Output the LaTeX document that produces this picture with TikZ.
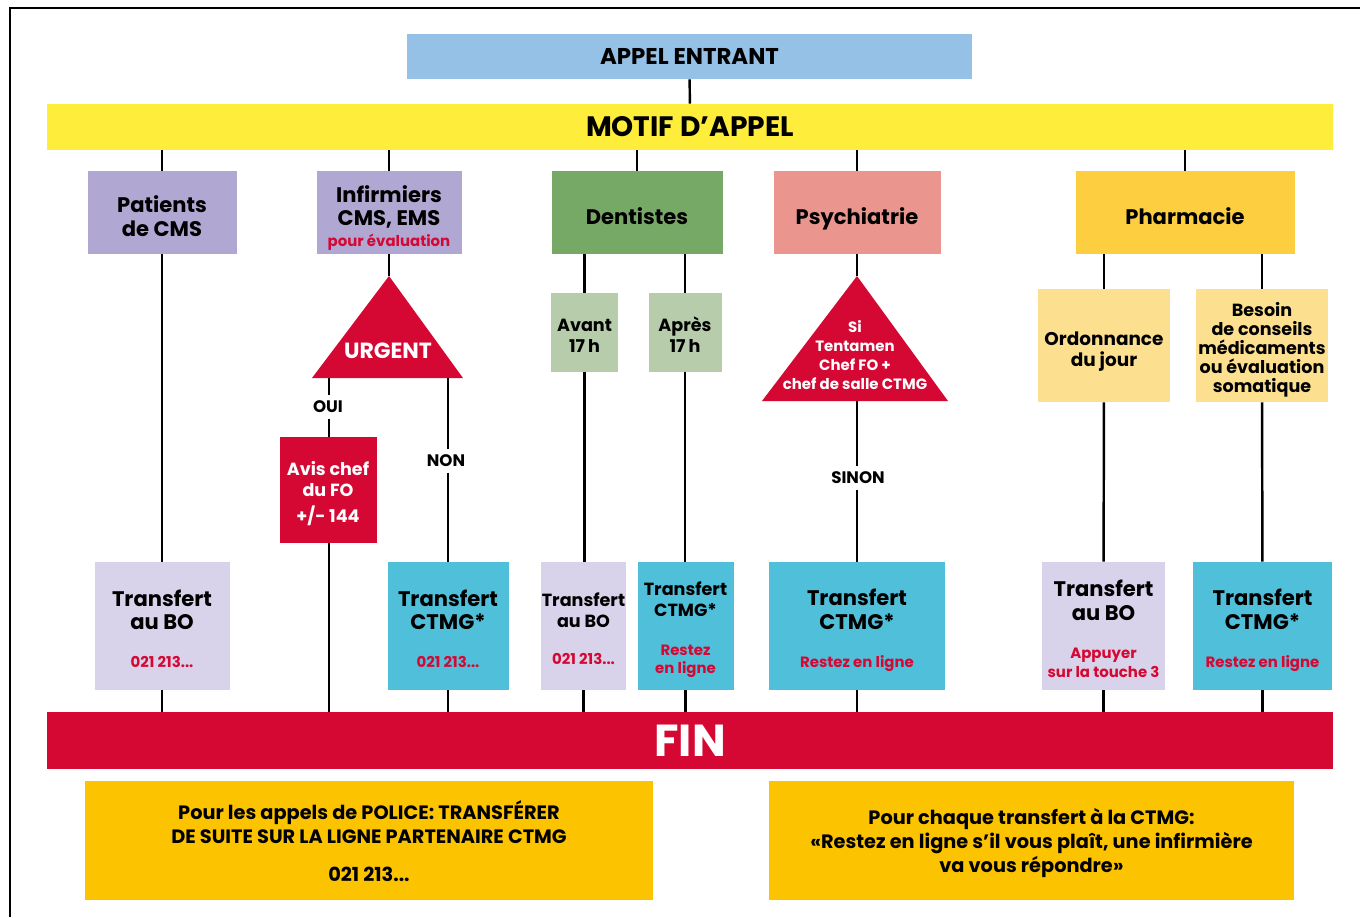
\documentclass[tikz,border=0pt]{standalone}
\usepackage{fontspec}
\setmainfont{Poppins}
\usetikzlibrary{positioning}

\definecolor{cblue}{HTML}{96C1E7}
\definecolor{cyellow}{HTML}{FFED3B}
\definecolor{cpurple}{HTML}{B0A7D3}
\definecolor{cgreen}{HTML}{76A866}
\definecolor{csalmon}{HTML}{EA968E}
\definecolor{cpharm}{HTML}{FDCE40}
\definecolor{clgreen}{HTML}{B7CCAA}
\definecolor{clyellow}{HTML}{FDE08F}
\definecolor{clav}{HTML}{D8D3EA}
\definecolor{ccyan}{HTML}{50BFDA}
\definecolor{cred}{HTML}{D50834}
\definecolor{cnote}{HTML}{FCC300}

\tikzset{
  box/.style={inner sep=0pt, align=center, font=\bfseries\fontsize{12}{13.6}\selectfont},
  sz/.style 2 args={minimum width=#1*0.02cm, minimum height=#2*0.02cm},
  link/.style={line width=1.4pt},
  lbl/.style={font=\bfseries\fontsize{9.5}{11}\selectfont, inner sep=3pt},
  tri/.style={fill=cred},
}
% red sub-text, switch: repeat it on each line
\newcommand{\sub}{\color{cred}\fontsize{8.5}{10.5}\selectfont}
% strut on first line, pushes the text down a bit
\newcommand{\tp}[1]{\rule{0pt}{#1em}}

\begin{document}
\begin{tikzpicture}[x=0.02cm,y=-0.02cm]
   \useasboundingbox (0,0) rectangle (1360,917);
   \draw[line width=1pt] (10,917) -- (10,8) -- (1360,8);

   % top
   \node[box,sz={565}{45},fill=cblue,font=\bfseries\fontsize{13}{14}\selectfont] (appel) at (689.5,56.5) {APPEL ENTRANT};
   \node[box,sz={1286}{46},fill=cyellow,font=\bfseries\fontsize{16}{18}\selectfont] (motif) at (690,127) {MOTIF D’APPEL};

   % motifs
   \node[box,sz={149}{83},fill=cpurple] (pat) at (162,212.5) {\tp{1.12}Patients\\de CMS};
   \node[box,sz={145}{83},fill=cpurple] (inf) at (389,212.5) {\tp{1.3}Infirmiers\\CMS, EMS\\[-2pt]\sub pour évaluation};
   \node[box,sz={171}{83},fill=cgreen] (dent) at (637,212.5) {\tp{1.1}Dentistes};
   \node[box,sz={167}{83},fill=csalmon] (psy) at (857,212.5) {\tp{1.4}Psychiatrie};
   \node[box,sz={219}{83},fill=cpharm] (pharm) at (1185,212.5) {\tp{1.1}Pharmacie};

   % decisions
   \coordinate (urgtop) at (389,276);
   \coordinate (urgL) at (329,378);
   \coordinate (urgR) at (448,378);
   \fill[tri] (urgtop) -- (463,378) -- (312,378) -- cycle;
   \node[box,text=white,font=\bfseries\fontsize{12.5}{14}\selectfont] (urg) at (388,351) {URGENT};

   \coordinate (psytop) at (857,276);
   \coordinate (psybot) at (857,401);
   \fill[tri] (psytop) -- (948,401) -- (762,401) -- cycle;
   \node[box,text=white,font=\bfseries\fontsize{8.5}{10.8}\selectfont] (tent) at (855,355) {Si\\Tentamen\\Chef FO +\\chef de salle CTMG};

   \node[box,sz={97}{106},fill=cred,text=white,font=\bfseries\fontsize{10}{12}\selectfont] (avis) at (328,490) {\tp{1.2}Avis chef\\du FO\\[3pt]+/- 144};

   \node[box,sz={67}{79},fill=clgreen,font=\bfseries\fontsize{10}{12.4}\selectfont] (avant) at (584.5,332.5) {\tp{1.08}Avant\\17\,h};
   \node[box,sz={73}{79},fill=clgreen,font=\bfseries\fontsize{10}{12.4}\selectfont] (apres) at (685,332.5) {\tp{1.08}Après\\17\,h};

   \node[box,sz={132}{113},fill=clyellow,font=\bfseries\fontsize{10.5}{12}\selectfont] (ordo) at (1104,345.5) {\tp{1.38}Ordonnance\\du jour};
   \node[box,sz={132}{113},fill=clyellow,font=\bfseries\fontsize{10}{10.8}\selectfont] (besoin) at (1262,345.5) {\tp{1.3}Besoin\\de conseils\\médicaments\\ou évaluation\\somatique};

   % transferts
   \node[box,sz={135}{128},fill=clav] (t1) at (162,626) {\tp{1.05}Transfert\\au BO\\[8pt]\sub 021 213...};
   \node[box,sz={121}{128},fill=ccyan] (t2) at (448,626) {\tp{1.05}Transfert\\CTMG*\\[8pt]\sub 021 213...};
   \node[box,sz={85}{128},fill=clav,font=\bfseries\fontsize{10}{12}\selectfont] (t3) at (583.5,626) {\tp{1.08}Transfert\\au BO\\[9pt]\sub 021 213...};
   \node[box,sz={96}{128},fill=ccyan,font=\bfseries\fontsize{10}{12}\selectfont] (t4) at (685.5,626) {\tp{1.2}Transfert\\CTMG*\\[10pt]\sub Restez\\[-2pt]\sub en ligne};
   \node[box,sz={176}{128},fill=ccyan] (t5) at (857,626) {\tp{1.22}Transfert\\CTMG*\\[8pt]\sub Restez en ligne};
   \node[box,sz={123}{128},fill=clav] (t6) at (1103.5,626) {\tp{1.07}Transfert\\au BO\\[8pt]\sub Appuyer\\[-3pt]\sub sur la touche 3};
   \node[box,sz={139}{128},fill=ccyan] (t7) at (1262.5,626) {\tp{1.15}Transfert\\CTMG*\\[8pt]\sub Restez en ligne};

   \node[box,sz={1286}{57},fill=cred,text=white,font=\bfseries\fontsize{25.5}{28}\selectfont] (fin) at (690,740.5) {FIN};

   % notes
   \node[box,sz={568}{119},fill=cnote,font=\bfseries\fontsize{11}{13.6}\selectfont] (police) at (369,840.5) {\tp{1.0}Pour les appels de POLICE: TRANSFÉRER\\DE SUITE SUR LA LIGNE PARTENAIRE CTMG\\[8pt]021 213...};
   \node[box,sz={525}{119},fill=cnote,font=\bfseries\fontsize{11}{13.6}\selectfont] (ctmg) at (1031.5,840.5) {\tp{1.1}Pour chaque transfert à la CTMG:\\«Restez en ligne s’il vous plaît, une infirmière\\va vous répondre»};

   % labels
   \node[lbl] (oui) at (328,407) {OUI};
   \node[lbl] (non) at (446,461) {NON};
   \node[lbl] (sinon) at (858,478) {SINON};

   % connectors
   \draw[link] (appel) -- (motif);
   \foreach \n in {pat,inf,dent,psy,pharm}
     \draw[link] (\n.north) -- (\n.north |- motif.south);
   \draw[link] (pat) -- (t1);
   \draw[link] (inf) -- (urgtop);
   \draw[link] (urgL) -- (urgL |- oui.north);
   \draw[link] (urgL |- oui.south) -- (urgL |- avis.north);
   \draw[link] (urgR) -- (urgR |- non.north);
   \draw[link] (urgR |- non.south) -- (t2);
   \draw[link] (avis.south -| urgL) -- (urgL |- fin.north);
   \draw[link] (avant.north) -- (avant.north |- dent.south);
   \draw[link] (apres.north) -- (apres.north |- dent.south);
   \draw[link] (avant.south) -- (avant.south |- t3.north);
   \draw[link] (apres.south) -- (apres.south |- t4.north);
   \draw[link] (psy) -- (psytop);
   \draw[link] (psybot) -- (psybot |- sinon.north);
   \draw[link] (psybot |- sinon.south) -- (t5);
   \draw[link] (ordo.north) -- (ordo.north |- pharm.south);
   \draw[link] (besoin.north) -- (besoin.north |- pharm.south);
   \draw[link] (ordo) -- (t6);
   \draw[link] (besoin) -- (t7);
   \foreach \n in {t1,t2,t3,t4,t5,t6,t7}
     \draw[link] (\n.south) -- (\n.south |- fin.north);
\end{tikzpicture}
\end{document}
